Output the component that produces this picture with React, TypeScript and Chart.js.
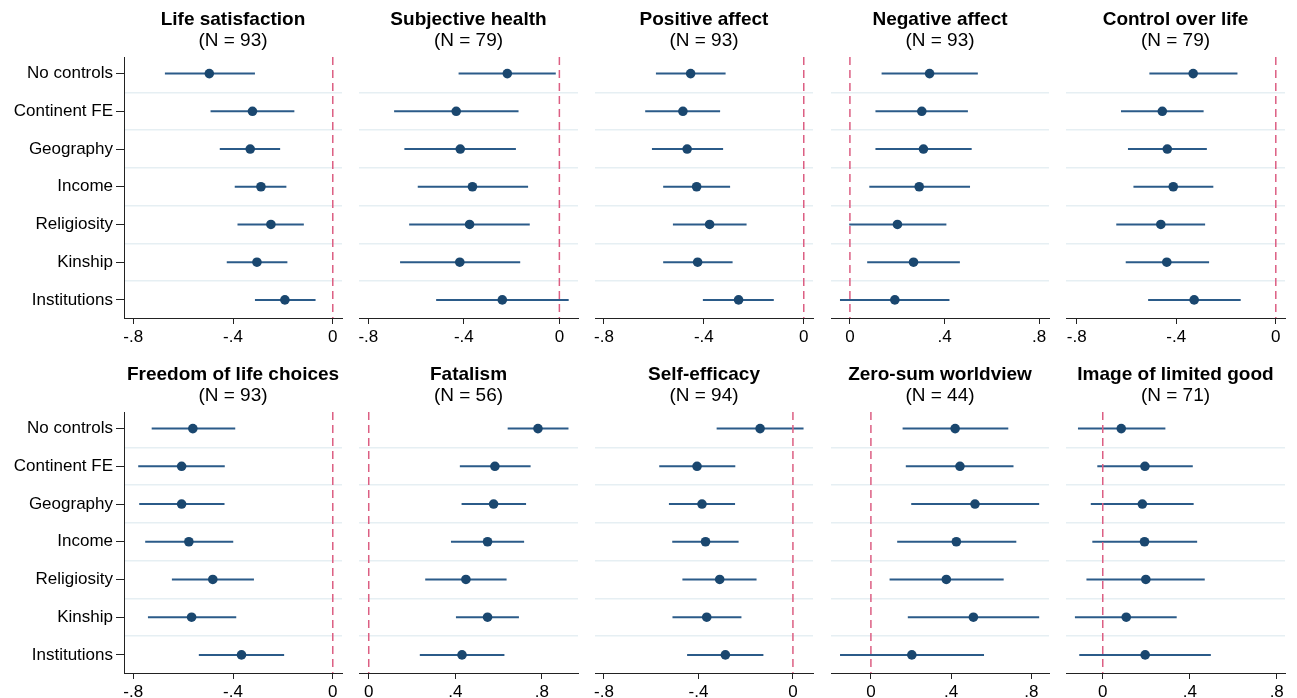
import React, { useEffect, useRef } from 'react';
import { Chart, registerables } from 'chart.js';
Chart.register(...registerables);

// ---------- data ----------
const CATEGORIES = ['No controls', 'Continent FE', 'Geography', 'Income', 'Religiosity', 'Kinship', 'Institutions'];

const NEG_TICKS = [-0.8, -0.4, 0];
const POS_TICKS = [0, 0.4, 0.8];

const LIFE_SAT_EST = [-0.495, -0.322, -0.331, -0.288, -0.248, -0.304, -0.192];
const LIFE_SAT_LO = [-0.673, -0.49, -0.453, -0.393, -0.382, -0.425, -0.312];
const LIFE_SAT_HI = [-0.312, -0.154, -0.211, -0.186, -0.116, -0.182, -0.069];

const HEALTH_EST = [-0.218, -0.432, -0.415, -0.364, -0.376, -0.417, -0.239];
const HEALTH_LO = [-0.422, -0.692, -0.649, -0.593, -0.629, -0.667, -0.516];
const HEALTH_HI = [-0.015, -0.171, -0.182, -0.131, -0.124, -0.164, 0.039];

const POS_AFF_EST = [-0.453, -0.484, -0.467, -0.429, -0.377, -0.425, -0.261];
const POS_AFF_LO = [-0.592, -0.635, -0.608, -0.563, -0.524, -0.563, -0.404];
const POS_AFF_HI = [-0.313, -0.335, -0.323, -0.295, -0.229, -0.285, -0.12];

const NEG_AFF_EST = [0.337, 0.304, 0.311, 0.293, 0.201, 0.269, 0.19];
const NEG_AFF_LO = [0.134, 0.108, 0.108, 0.082, -0.003, 0.073, -0.042];
const NEG_AFF_HI = [0.541, 0.499, 0.515, 0.508, 0.408, 0.465, 0.421];

const CONTROL_EST = [-0.332, -0.456, -0.436, -0.412, -0.462, -0.438, -0.328];
const CONTROL_LO = [-0.508, -0.622, -0.594, -0.572, -0.641, -0.603, -0.513];
const CONTROL_HI = [-0.154, -0.29, -0.277, -0.251, -0.284, -0.268, -0.141];

const FREEDOM_EST = [-0.561, -0.606, -0.606, -0.577, -0.481, -0.566, -0.366];
const FREEDOM_LO = [-0.726, -0.78, -0.776, -0.752, -0.645, -0.741, -0.537];
const FREEDOM_HI = [-0.391, -0.433, -0.434, -0.399, -0.316, -0.387, -0.195];

const FATALISM_EST = [0.782, 0.583, 0.577, 0.549, 0.449, 0.549, 0.431];
const FATALISM_LO = [0.642, 0.421, 0.429, 0.38, 0.261, 0.403, 0.236];
const FATALISM_HI = [0.923, 0.748, 0.727, 0.718, 0.637, 0.694, 0.627];

const EFFICACY_EST = [-0.139, -0.406, -0.385, -0.37, -0.31, -0.365, -0.286];
const EFFICACY_LO = [-0.323, -0.566, -0.525, -0.511, -0.468, -0.51, -0.448];
const EFFICACY_HI = [0.045, -0.244, -0.245, -0.23, -0.154, -0.218, -0.125];

const ZEROSUM_EST = [0.42, 0.444, 0.519, 0.426, 0.376, 0.511, 0.204];
const ZEROSUM_LO = [0.158, 0.174, 0.201, 0.131, 0.093, 0.184, -0.154];
const ZEROSUM_HI = [0.685, 0.711, 0.839, 0.725, 0.662, 0.839, 0.564];

const LIMITED_EST = [0.085, 0.194, 0.182, 0.192, 0.198, 0.108, 0.195];
const LIMITED_LO = [-0.114, -0.025, -0.055, -0.048, -0.075, -0.128, -0.108];
const LIMITED_HI = [0.288, 0.414, 0.418, 0.434, 0.469, 0.34, 0.497];

const PANELS = [
  { title: 'Life satisfaction', n: 93, est: LIFE_SAT_EST, lo: LIFE_SAT_LO, hi: LIFE_SAT_HI, ticks: NEG_TICKS, min: -0.837, max: 0.037 },
  { title: 'Subjective health', n: 79, est: HEALTH_EST, lo: HEALTH_LO, hi: HEALTH_HI, ticks: NEG_TICKS, min: -0.839, max: 0.078 },
  { title: 'Positive affect', n: 93, est: POS_AFF_EST, lo: POS_AFF_LO, hi: POS_AFF_HI, ticks: NEG_TICKS, min: -0.836, max: 0.037 },
  { title: 'Negative affect', n: 93, est: NEG_AFF_EST, lo: NEG_AFF_LO, hi: NEG_AFF_HI, ticks: POS_TICKS, min: -0.08, max: 0.842 },
  { title: 'Control over life', n: 79, est: CONTROL_EST, lo: CONTROL_LO, hi: CONTROL_HI, ticks: NEG_TICKS, min: -0.843, max: 0.037 },
  { title: 'Freedom of life choices', n: 93, est: FREEDOM_EST, lo: FREEDOM_LO, hi: FREEDOM_HI, ticks: NEG_TICKS, min: -0.837, max: 0.037 },
  { title: 'Fatalism', n: 56, est: FATALISM_EST, lo: FATALISM_LO, hi: FATALISM_HI, ticks: POS_TICKS, min: -0.045, max: 0.967 },
  { title: 'Self-efficacy', n: 94, est: EFFICACY_EST, lo: EFFICACY_LO, hi: EFFICACY_HI, ticks: NEG_TICKS, min: -0.838, max: 0.085 },
  { title: 'Zero-sum worldview', n: 44, est: ZEROSUM_EST, lo: ZEROSUM_LO, hi: ZEROSUM_HI, ticks: POS_TICKS, min: -0.199, max: 0.888 },
  { title: 'Image of limited good', n: 71, est: LIMITED_EST, lo: LIMITED_LO, hi: LIMITED_HI, ticks: POS_TICKS, min: -0.169, max: 0.838 },
];

// ---------- layout / style ----------
const FONT = "'Liberation Sans', Arial, Helvetica, sans-serif";
const NAVY = '#1a476f';
const CI_COLOR = '#2b5b89';
const ZERO_COLOR = '#dc5f83';
const GRID_COLOR = '#e6eff3';
const AXIS_COLOR = '#222222';
const Y_MIN = -0.44;
const Y_MAX = 6.48;
const GRID_POS = [0.5, 1.5, 2.5, 3.5, 4.5, 5.5];

const COL_LEFT = [124, 359, 595, 831, 1066];
const COL_RIGHT = [342, 578, 813, 1049, 1285];
const ROW_TOP = [0, 355];
const CANVAS_H = 352;
const X_AXIS_H = 34;
const PAD = 12;

const fmtTick = (v: number) => {
  if (Math.abs(v) < 1e-9) return '0';
  const s = Math.abs(v).toFixed(1).replace(/^0/, '');
  return (v < 0 ? '-' : '') + s;
};

function Panel({ idx }: { idx: number }) {
  const ref = useRef<HTMLCanvasElement | null>(null);
  const p = PANELS[idx];
  const row = Math.floor(idx / 5);
  const col = idx % 5;
  const isLeft = col === 0;
  const left = isLeft ? 0 : COL_LEFT[col] - PAD;
  const width = COL_RIGHT[col] + PAD - left;

  useEffect(() => {
    if (!ref.current) return;
    const datasets: any[] = [
      {
        data: p.est.map((x, i) => ({ x, y: i })),
        pointRadius: 4.8,
        pointHoverRadius: 4.8,
        backgroundColor: NAVY,
        borderColor: NAVY,
        pointBorderWidth: 0,
        borderWidth: 0,
      },
      {
        data: [{ x: 0, y: Y_MIN }, { x: 0, y: Y_MAX }],
        showLine: true,
        borderColor: ZERO_COLOR,
        borderWidth: 1.5,
        borderDash: [8, 5],
        pointRadius: 0,
      },
      ...p.lo.map((l, i) => ({
        data: [{ x: l, y: i }, { x: p.hi[i], y: i }],
        showLine: true,
        borderColor: CI_COLOR,
        borderWidth: 2,
        pointRadius: 0,
      })),
    ];
    const chart = new Chart(ref.current, {
      type: 'scatter',
      data: { datasets },
      options: {
        animation: false,
        responsive: false,
        devicePixelRatio: 1,
        events: [],
        layout: { padding: { left: isLeft ? 0 : PAD, right: PAD, top: 0, bottom: 0 } },
        plugins: {
          legend: { display: false },
          tooltip: { enabled: false },
          title: {
            display: true,
            text: p.title,
            fullSize: false,
            color: '#000',
            font: { family: FONT, size: 19, weight: 'bold', lineHeight: 1 },
            padding: { top: 10, bottom: 0 },
          },
          subtitle: {
            display: true,
            text: `(N = ${p.n})`,
            fullSize: false,
            color: '#000',
            font: { family: FONT, size: 19, lineHeight: 1 },
            padding: { top: 2, bottom: 7 },
          },
        },
        scales: {
          x: {
            type: 'linear',
            position: 'bottom',
            min: p.min,
            max: p.max,
            afterBuildTicks: (s: any) => { s.ticks = p.ticks.map((v) => ({ value: v })); },
            afterFit: (s: any) => { s.height = X_AXIS_H; },
            ticks: { callback: (v: any) => fmtTick(Number(v)), color: '#000', font: { family: FONT, size: 17 }, padding: 3, autoSkip: false, maxRotation: 0 },
            grid: { drawOnChartArea: false, drawTicks: true, tickLength: 6, color: AXIS_COLOR, lineWidth: 1 },
            border: { display: true, color: AXIS_COLOR, width: 1 },
          },
          y: {
            type: 'linear',
            axis: 'y',
            position: 'left',
            min: Y_MIN,
            max: Y_MAX,
            reverse: true,
            display: isLeft,
            afterBuildTicks: (s: any) => { s.ticks = CATEGORIES.map((_, i) => ({ value: i })); },
            afterFit: (s: any) => { s.width = isLeft ? COL_LEFT[0] : 0; },
            ticks: { callback: (v: any) => CATEGORIES[Math.round(Number(v))], color: '#000', font: { family: FONT, size: 17 }, padding: 3, autoSkip: false },
            grid: { drawOnChartArea: false, drawTicks: true, tickLength: 8, color: AXIS_COLOR, lineWidth: 1 },
            border: { display: true, color: AXIS_COLOR, width: 1 },
          },
          yg: {
            type: 'linear',
            axis: 'y',
            position: 'left',
            min: Y_MIN,
            max: Y_MAX,
            reverse: true,
            afterBuildTicks: (s: any) => { s.ticks = GRID_POS.map((v) => ({ value: v })); },
            afterFit: (s: any) => { s.width = 0; },
            ticks: { display: false },
            grid: { drawTicks: false, color: GRID_COLOR, lineWidth: 1.5 },
            border: { display: false },
          },
        },
      } as any,
    });
    return () => chart.destroy();
  }, [idx]);

  return (
    <canvas
      ref={ref}
      width={width}
      height={CANVAS_H}
      style={{ position: 'absolute', left, top: ROW_TOP[row], width, height: CANVAS_H, display: 'block' }}
    />
  );
}

export default function App() {
  return (
    <div style={{ position: 'absolute', left: 0, top: 0, width: 1297, height: 698, overflow: 'hidden', background: '#fff' }}>
      {PANELS.map((_, i) => (
        <Panel key={i} idx={i} />
      ))}
    </div>
  );
}
